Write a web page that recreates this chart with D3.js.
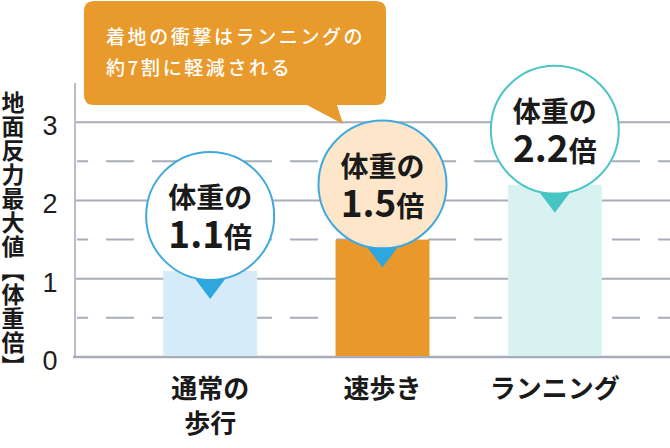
<!DOCTYPE html>
<html>
<head>
<meta charset="utf-8">
<script src="https://cdn.jsdelivr.net/npm/d3@7/dist/d3.min.js"></script>
<style>
  html, body { margin: 0; padding: 0; background: #fff; }
  svg { display: block; }
</style>
</head>
<body>
<svg id="chart" width="670" height="448"></svg>
<script>
// ---- data ----
const categories = ["通常の歩行", "速歩き", "ランニング"];
const categoryLines = [["通常の", "歩行"], ["速歩き"], ["ランニング"]];
const values = [1.1, 1.5, 2.2];
const valueLabels = ["1.1", "1.5", "2.2"];
const tickValues = [0, 1, 2, 3];
const halfTicks = [0.5, 1.5, 2.5];
const yAxisTitle = "地面反力最大値【体重倍】";
const bubblePrefix = "体重の";
const bubbleSuffix = "倍";
const calloutLines = ["着地の衝撃はランニングの", "約7割に軽減される"];

// ---- styles ----
const barColors = ["#d5ebf8", "#e9992b", "#d8f2f2"];
const bubbleFill = ["#ffffff", "#fde6c9", "#ffffff"];
const bubbleStroke = ["#3fa9dd", "#3fa9dd", "#4cc5c5"];
const pointerColor = ["#2ea6de", "#2ea6de", "#48c4c4"];
const CJK = "'Noto Sans CJK JP', 'Noto Sans', sans-serif";

const svg = d3.select("#chart");

const y = d3.scaleLinear().domain([0, 3.5]).range([357, 83]);
const x = d3.scaleBand().domain(categories).range([124, 641])
  .paddingInner(0.455).paddingOuter(0.2275);

// gridlines
svg.append("g").selectAll("line").data(tickValues.filter(d => d > 0)).join("line")
  .attr("x1", 76).attr("x2", 670)
  .attr("y1", d => y(d)).attr("y2", d => y(d))
  .attr("stroke", "#a8adb9").attr("stroke-width", 2);

svg.append("g").selectAll("line").data(halfTicks).join("line")
  .attr("x1", 77).attr("x2", 670)
  .attr("y1", d => y(d)).attr("y2", d => y(d))
  .attr("stroke", "#a8adb9").attr("stroke-width", 2)
  .attr("stroke-dasharray", "28,18").attr("stroke-dashoffset", 17);

// axes lines
svg.append("line").attr("x1", 75).attr("x2", 75).attr("y1", 83).attr("y2", y(0))
  .attr("stroke", "#b8bdc7").attr("stroke-width", 2);
svg.append("line").attr("x1", 73).attr("x2", 670).attr("y1", y(0)).attr("y2", y(0))
  .attr("stroke", "#a8adb9").attr("stroke-width", 2.5);

// y tick labels
const yAxis = svg.append("g").attr("transform", "translate(75,0)")
  .call(d3.axisLeft(y).tickValues(tickValues).tickSize(0).tickPadding(19).tickFormat(d3.format("d")));
yAxis.select(".domain").remove();
yAxis.attr("font-size", null).attr("font-family", null);
yAxis.selectAll("text")
  .style("font-family", "'Liberation Sans', Arial, sans-serif")
  .style("font-size", "27px")
  .attr("fill", "#1e1e1e").attr("text-anchor", "middle")
  .attr("x", -25).attr("dy", null).attr("y", 0)
  .attr("transform", "translate(0,12.5)");

// y axis title (vertical)
svg.append("text")
  .attr("x", 13).attr("y", 91)
  .style("font-family", CJK).style("font-weight", "bold").style("font-size", "23px")
  .attr("fill", "#1a1a1a")
  .style("writing-mode", "vertical-rl")
  .style("letter-spacing", "1px")
  .text(yAxisTitle);

// bars
svg.append("g").selectAll("rect").data(values).join("rect")
  .attr("x", (d, i) => x(categories[i]))
  .attr("width", x.bandwidth())
  .attr("y", d => y(d))
  .attr("height", d => y(0) - y(d) - 1)
  .attr("fill", (d, i) => barColors[i]);

// bubbles
const R = 64;
const bub = svg.append("g").selectAll("g").data(values).join("g")
  .attr("transform", (d, i) => `translate(${x(categories[i]) + x.bandwidth() / 2},${y(d) - 55})`);

bub.append("circle").attr("r", R)
  .attr("fill", (d, i) => bubbleFill[i])
  .attr("stroke", (d, i) => bubbleStroke[i]).attr("stroke-width", 2);

bub.append("path")
  .attr("d", `M-15,${R - 1}L15,${R - 1}L0,${R + 19}Z`)
  .attr("fill", (d, i) => pointerColor[i]);

bub.append("text")
  .attr("y", -8).attr("text-anchor", "middle")
  .attr("font-family", CJK).attr("font-weight", "bold").attr("font-size", 28)
  .attr("fill", "#1a1a1a")
  .text(bubblePrefix);

const l2 = bub.append("text")
  .attr("y", 32).attr("text-anchor", "middle")
  .attr("font-family", CJK).attr("font-weight", "bold")
  .attr("fill", "#1a1a1a");
l2.append("tspan").attr("font-size", 37).text((d, i) => valueLabels[i]);
l2.append("tspan").attr("font-size", 28).text(bubbleSuffix);

// x labels
svg.append("g").selectAll("text").data(categories).join("text")
  .attr("text-anchor", "middle")
  .attr("font-family", CJK).attr("font-weight", "bold").attr("font-size", 26)
  .attr("fill", "#1a1a1a")
  .each(function (d, i) {
    const cx = x(d) + x.bandwidth() / 2;
    d3.select(this).selectAll("tspan").data(categoryLines[i]).join("tspan")
      .attr("x", cx).attr("y", (t, j) => 398 + j * 35).text(t => t);
  });

// callout
const callout = svg.append("g");
callout.append("path")
  .attr("d", "M94,1 H376 Q386,1 386,11 V95 Q386,105 376,105 H337 L343,124 L307,105 H94 Q84,105 84,95 V11 Q84,1 94,1 Z")
  .attr("fill", "#e89a2c");
callout.append("g").selectAll("text").data(calloutLines).join("text")
  .attr("x", 106).attr("y", (d, i) => 44 + i * 31)
  .attr("font-family", CJK).attr("font-weight", 500).attr("font-size", 19)
  .style("letter-spacing", "2.6px")
  .attr("fill", "#ffffff")
  .text(d => d);
</script>
</body>
</html>
